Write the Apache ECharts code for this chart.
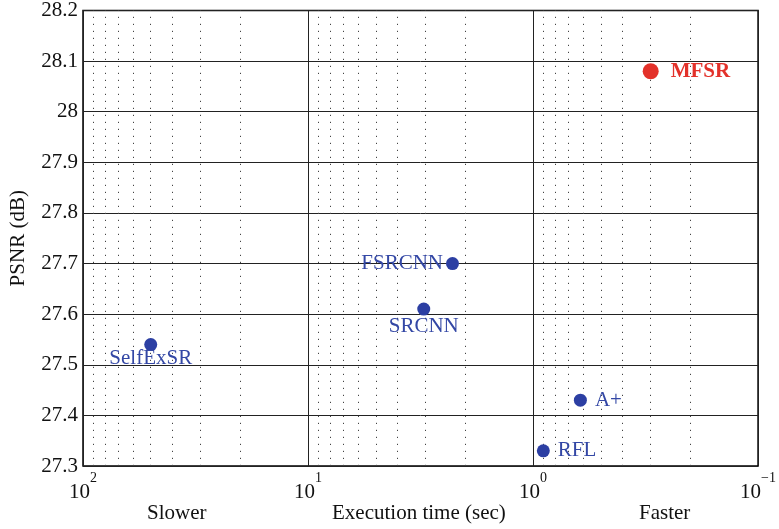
<!DOCTYPE html>
<html>
<head>
<meta charset="utf-8">
<script src="https://cdn.jsdelivr.net/npm/echarts@6/dist/echarts.min.js"></script>
<style>html,body{margin:0;padding:0;background:#fff}#c{width:779px;height:529px}</style>
</head>
<body>
<div id="c"></div>
<script>
// Data
const methods = ['SelfExSR', 'FSRCNN', 'SRCNN', 'A+', 'RFL', 'MFSR'];
const timeSec = [50, 2.28, 3.06, 0.616, 0.90, 0.30];
const psnr = [27.54, 27.70, 27.61, 27.43, 27.33, 28.08];
const minorTicks = [0.2,0.3,0.4,0.5,0.6,0.7,0.8,0.9, 2,3,4,5,6,7,8,9, 20,30,40,50,60,70,80,90];
const yTicks = [27.3, 27.4, 27.5, 27.6, 27.7, 27.8, 27.9, 28, 28.1, 28.2];

const FONT = '"Liberation Serif", "Times New Roman", serif';
const BLUE = '#2c3fa3';
const BLUE_TXT = '#3347a5';
const RED = '#e3312a';

const labelPos = {
  'SelfExSR': {position: 'bottom', distance: -3},
  'FSRCNN': {position: 'left', distance: 3},
  'SRCNN': {position: 'bottom', distance: 0},
  'A+': {position: 'right', distance: 8},
  'RFL': {position: 'right', distance: 8},
  'MFSR': {position: 'right', distance: 12}
};

const pts = methods.map((m, i) => {
  const isMain = m === 'MFSR';
  return {
    name: m,
    value: [timeSec[i], psnr[i]],
    symbolSize: isMain ? 16 : 13,
    itemStyle: {color: isMain ? RED : BLUE, opacity: 1},
    label: Object.assign({
      show: true,
      formatter: m,
      color: isMain ? RED : BLUE_TXT,
      opacity: 1,
      fontFamily: FONT,
      fontSize: 21,
      fontWeight: isMain ? 'bold' : 'normal'
    }, labelPos[m])
  };
});

const supMap = {'2': '2', '1': '1', '0': '0', '-1': '\u22121'};

const chart = echarts.init(document.getElementById('c'), null, {renderer: 'canvas'});
chart.setOption({
  animation: false,
  backgroundColor: '#fff',
  grid: {left: 80, right: 19, top: 10, bottom: 63, show: true, borderColor: '#000', borderWidth: 1.5, backgroundColor: 'transparent'},
  xAxis: {
    type: 'log',
    logBase: 10,
    min: 0.1,
    max: 100,
    inverse: true,
    axisLine: {show: false},
    axisTick: {show: false},
    splitLine: {show: true, lineStyle: {color: '#222', width: 1}},
    axisLabel: {
      margin: 5,
      formatter: function (v) {
        const e = Math.round(Math.log10(v));
        return '{b|10}{s|' + supMap[String(e)] + '}';
      },
      rich: {
        b: {fontFamily: FONT, fontSize: 21, color: '#111', lineHeight: 32, verticalAlign: 'bottom'},
        s: {fontFamily: FONT, fontSize: 14, color: '#111', verticalAlign: 'top', lineHeight: 14}
      }
    }
  },
  yAxis: {
    type: 'value',
    min: 27.3,
    max: 28.2,
    interval: 0.1,
    axisLine: {show: false},
    axisTick: {show: false},
    splitLine: {show: true, lineStyle: {color: '#222', width: 1}},
    axisLabel: {
      margin: 5,
      fontFamily: FONT,
      fontSize: 21,
      color: '#111',
      formatter: v => String(+(+v).toFixed(1))
    },
    name: 'PSNR (dB)',
    nameLocation: 'middle',
    nameGap: 54,
    nameTextStyle: {fontFamily: FONT, fontSize: 21, color: '#111'}
  },
  graphic: [
    {type: 'text', left: 147, top: 503, style: {text: 'Slower', font: '21px ' + FONT, fill: '#111'}},
    {type: 'text', left: 332, top: 503, style: {text: 'Execution time (sec)', font: '21px ' + FONT, fill: '#111'}},
    {type: 'text', left: 639, top: 503, style: {text: 'Faster', font: '21px ' + FONT, fill: '#111'}}
  ],
  series: [
    {
      type: 'scatter',
      data: [],
      silent: true,
      markLine: {
        silent: true,
        symbol: ['none', 'none'],
        label: {show: false},
        lineStyle: {type: [1.2, 5.8], color: '#444', width: 1, opacity: 1},
        data: minorTicks.map(v => ({xAxis: v}))
      }
    },
    {
      type: 'scatter',
      data: pts,
      z: 5
    }
  ]
});
</script>
</body>
</html>
